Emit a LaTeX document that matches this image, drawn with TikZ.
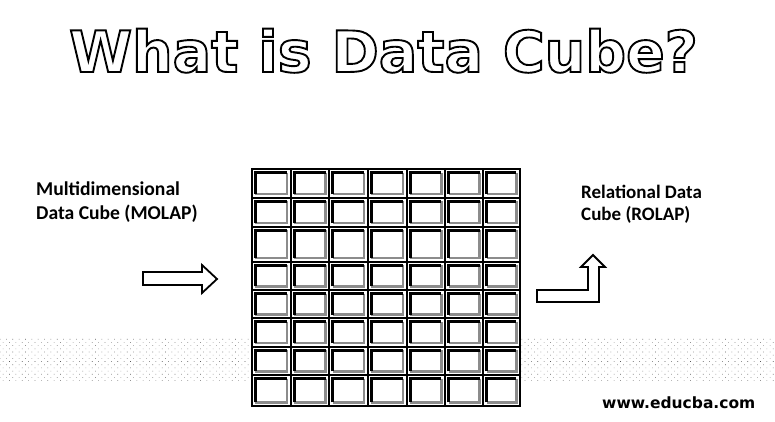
\documentclass[tikz,border=0pt]{standalone}
\usepackage{fontspec}
\setmainfont{Carlito}
\newfontfamily\titlefont{DejaVu Sans}
\usetikzlibrary{patterns.meta}
\newcommand\outlinetext[1]{\special{pdf:literal direct 0 G 1 Tr 1.9 w}#1\special{pdf:literal direct 0 Tr}}
\tikzset{
  ttl/.style={anchor=base,inner sep=0pt,font=\titlefont\bfseries\fontsize{57}{57}\selectfont},
  lbl/.style={anchor=base west,inner sep=0pt,font=\bfseries\fontsize{19.6}{23}\selectfont},
  rlbl/.style={anchor=base west,inner sep=0pt,font=\bfseries\fontsize{19}{22}\selectfont},
  url/.style={anchor=base west,inner sep=0pt,font=\titlefont\bfseries\fontsize{15.5}{17}\selectfont},
  blockarrow/.style={draw=black,line width=1.8pt,fill=white,line join=miter},
  gridline/.style={draw=black,line width=2pt},
  bevdark/.style={draw=black,line width=3pt},
  bevlight/.style={draw=black!45,line width=2.6pt}
}
\begin{document}
\begin{tikzpicture}[x=1pt,y=-1pt]
\useasboundingbox (0,0) rectangle (775,422);
\fill[white] (0,0) rectangle (775,422);
% dotted band
\fill[pattern={Dots[distance=4.5pt,radius=0.42pt,angle=45]},pattern color=black!65] (0,337) rectangle (775,382);
% title (outlined letters)
\node[ttl] (title) at (383.5,72) {\outlinetext{What is Data Cube?}};
% grid of cells
\foreach \xa/\xb in {251.7/290.7,290.7/329.3,329.3/367.7,367.7/406.7,406.7/445,445/483.3,483.3/520}{
  \foreach \ya/\yb in {169.3/197.7,197.7/226.7,226.7/261.7,261.7/290,290/318.3,318.3/346.7,346.7/375,375/406}{
    \fill[white] (\xa,\ya) rectangle (\xb,\yb);
    \draw[bevlight] (\xb-3.6,\ya+3.6) -- (\xb-3.6,\yb-3.6) -- (\xa+3.6,\yb-3.6);
    \draw[bevdark] (\xa+3.6,\yb-3.6) -- (\xa+3.6,\ya+3.6) -- (\xb-3.6,\ya+3.6);
    \draw[gridline] (\xa,\ya) rectangle (\xb,\yb);
  }
}
% labels
\node[lbl] (m1) at (36,195) {Multidimensional};
\node[lbl] (m2) at (36,219) {Data Cube (MOLAP)};
\node[rlbl] (r1) at (581,198) {Relational Data};
\node[rlbl] (r2) at (581,220) {Cube (ROLAP)};
\node[url] (site) at (602,408) {www.educba.com};
% arrows
\draw[blockarrow] (143,272) -- (202,272) -- (202,265) -- (217,279) -- (202,293) -- (202,285) -- (143,285) -- cycle;
\draw[blockarrow] (537,290) -- (588,290) -- (588,267) -- (581,267) -- (593,255) -- (605,267) -- (599,267) -- (599,302) -- (537,302) -- cycle;
\end{tikzpicture}
\end{document}
